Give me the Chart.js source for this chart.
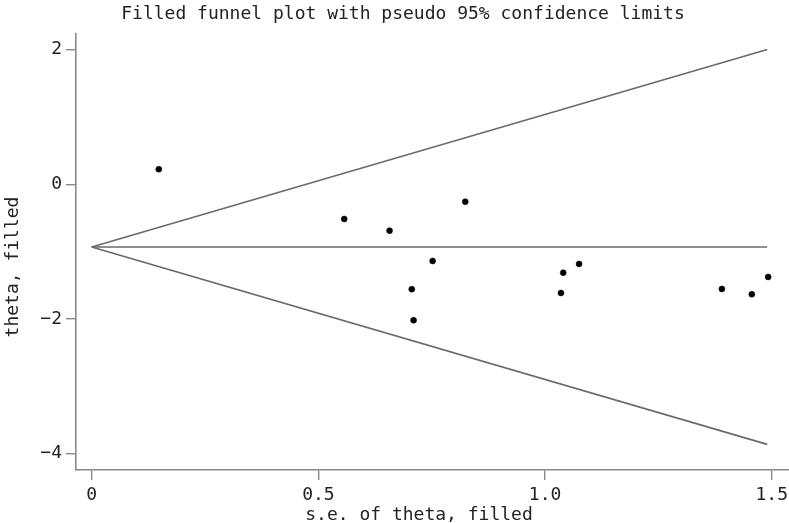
<!DOCTYPE html>
<html>
<head>
<meta charset="utf-8">
<script src="https://cdn.jsdelivr.net/npm/chart.js@4/dist/chart.umd.min.js"></script>
<style>
  html, body { margin: 0; padding: 0; background: #fff; }
  #wrap { width: 789px; height: 523px; }
</style>
</head>
<body>
<div id="wrap"><canvas id="funnel"></canvas></div>
<script>
// studies (se, theta)
const seValues    = [0.148, 0.824, 0.557, 0.657, 0.752, 0.706, 0.710, 1.040, 1.075, 1.035, 1.390, 1.456, 1.492];
const thetaValues = [0.223, -0.258, -0.515, -0.688, -1.138, -1.556, -2.018, -1.312, -1.182, -1.613, -1.553, -1.632, -1.375];

// funnel lines: pooled estimate and pseudo 95% limits, end points as read
const lineSe     = [0, 1.49];
const centerLine = [-0.93, -0.93];
const upperLine  = [-0.93, 2.0];
const lowerLine  = [-0.93, -3.86];

const xTicks = [0, 0.5, 1.0, 1.5];
const yTicks = [-4, -2, 0, 2];

const titleText  = 'Filled funnel plot with pseudo 95% confidence limits';
const xTitleText = 's.e. of theta, filled';
const yTitleText = 'theta, filled';

const monoFont = '"DejaVu Sans Mono", "Liberation Mono", monospace';
const axisGray = '#8a8a8a';
const lineGray = '#6a6a6a';

function pairs(xs, ys) {
  return xs.map((x, i) => ({ x: x, y: ys[i] }));
}

// titles drawn at the spots stata puts them
const textPlugin = {
  id: 'stataText',
  afterDraw(chart) {
    const c = chart.ctx;
    c.save();
    c.fillStyle = '#222';
    c.font = '18px ' + monoFont;
    c.textAlign = 'center';
    c.textBaseline = 'alphabetic';
    c.fillText(titleText, 403, 19);
    c.fillText(xTitleText, 419, 520);
    c.translate(18, 267);
    c.rotate(-Math.PI / 2);
    c.fillText(yTitleText, 0, 0);
    c.restore();
  }
};

const ctx = document.getElementById('funnel').getContext('2d');
const funnelChart = new Chart(ctx, {
  type: 'scatter',
  data: {
    datasets: [
      {
        label: 'studies',
        data: pairs(seValues, thetaValues),
        backgroundColor: '#000',
        borderColor: '#000',
        pointRadius: 3,
        pointBorderWidth: 0.5
      },
      {
        type: 'line',
        label: 'theta',
        data: pairs(lineSe, centerLine),
        borderColor: lineGray,
        borderWidth: 1.6,
        pointRadius: 0,
        fill: false
      },
      {
        type: 'line',
        label: 'upper',
        data: pairs(lineSe, upperLine),
        borderColor: lineGray,
        borderWidth: 1.6,
        pointRadius: 0,
        fill: false
      },
      {
        type: 'line',
        label: 'lower',
        data: pairs(lineSe, lowerLine),
        borderColor: lineGray,
        borderWidth: 1.6,
        pointRadius: 0,
        fill: false
      }
    ]
  },
  options: {
    responsive: true,
    maintainAspectRatio: false,
    animation: false,
    layout: { autoPadding: false, padding: { top: 34, left: 0, right: 0, bottom: 0 } },
    plugins: {
      legend: { display: false },
      title: { display: false },
      tooltip: { enabled: false }
    },
    scales: {
      x: {
        type: 'linear',
        min: -0.0346,
        max: 1.538,
        afterFit: (s) => { s.height = 53; s.paddingLeft = 0; s.paddingRight = 0; },
        afterBuildTicks: (s) => { s.ticks = xTicks.map(v => ({ value: v })); },
        ticks: {
          color: '#222',
          font: { family: monoFont, size: 18 },
          padding: 5,
          maxRotation: 0,
          autoSkip: false,
          callback: (v) => v === 0 ? '0' : v.toFixed(1)
        },
        grid: {
          drawOnChartArea: false,
          drawTicks: true,
          tickLength: 10,
          color: axisGray,
          lineWidth: 1.4
        },
        border: { display: true, color: axisGray, width: 1.6 }
      },
      y: {
        type: 'linear',
        min: -4.24,
        max: 2.23,
        afterFit: (s) => { s.width = 76; s.paddingTop = 0; s.paddingBottom = 0; },
        afterBuildTicks: (s) => { s.ticks = yTicks.map(v => ({ value: v })); },
        ticks: {
          color: '#222',
          font: { family: monoFont, size: 18 },
          padding: 4,
          autoSkip: false,
          callback: (v) => v < 0 ? '\u2212' + Math.abs(v) : String(v)
        },
        grid: {
          drawOnChartArea: false,
          drawTicks: true,
          tickLength: 10,
          color: axisGray,
          lineWidth: 1.4
        },
        border: { display: true, color: axisGray, width: 1.6 }
      }
    }
  },
  plugins: [textPlugin]
});
</script>
</body>
</html>
